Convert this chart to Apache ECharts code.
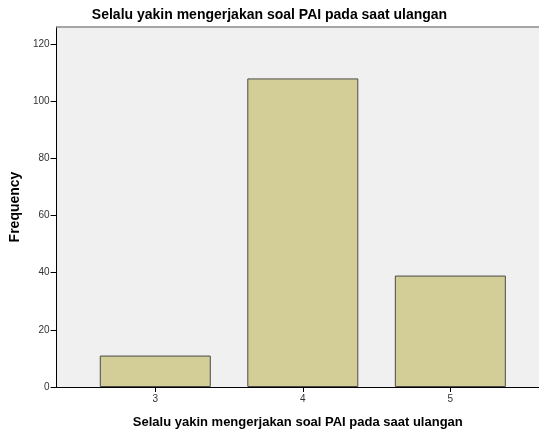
<!DOCTYPE html>
<html>
<head>
<meta charset="utf-8">
<script src="https://cdn.jsdelivr.net/npm/echarts@6/dist/echarts.min.js"></script>
<style>
  html, body { margin: 0; padding: 0; background: #fff; }
  #chart { width: 539px; height: 434px; }
</style>
</head>
<body>
<div id="chart"></div>
<script>
// data
const categories = [3, 4, 5]
const frequencies = [11, 108, 39]
const yTicks = [0, 20, 40, 60, 80, 100, 120]
const titleText = 'Selalu yakin mengerjakan soal PAI pada saat ulangan'

let chartInstance = echarts.init(document.getElementById('chart'), null, { renderer: 'canvas' })

const option = {
  animation: false,
  textStyle: { fontFamily: 'Liberation Sans, Arial, sans-serif' },
  title: {
    text: titleText,
    left: 'center',
    top: 3,
    textStyle: { fontSize: 14, fontWeight: 'bold', color: '#000' }
  },
  grid: {
    left: 54.5,
    right: 0,
    top: 27,
    bottom: 43,
    show: true,
    backgroundColor: '#f0f0f0',
    borderWidth: 0
  },
  xAxis: [
    {
      type: 'value',
      min: 2.331,
      max: 5.601,
      name: titleText,
      nameLocation: 'middle',
      nameGap: 29,
      nameTextStyle: { fontSize: 13, fontWeight: 'bold', color: '#000' },
      axisLine: { show: true, onZero: false, lineStyle: { color: '#000', width: 1 } },
      axisTick: { show: true, length: 5, customValues: categories, lineStyle: { color: '#000' } },
      axisLabel: { customValues: categories, fontSize: 10, color: '#333', margin: 7 },
      splitLine: { show: false }
    },
    {
      // grey frame line along the top of the plot
      type: 'value',
      position: 'top',
      min: 2.331,
      max: 5.601,
      axisLine: { show: true, onZero: false, lineStyle: { color: '#8a8a8a', width: 1.5 } },
      axisTick: { show: false },
      axisLabel: { show: false },
      splitLine: { show: false }
    }
  ],
  yAxis: {
    type: 'value',
    min: 0,
    max: 126,
    name: 'Frequency',
    nameLocation: 'middle',
    nameGap: 26,
    nameTextStyle: { fontSize: 14, fontWeight: 'bold', color: '#000' },
    axisLine: { show: true, lineStyle: { color: '#000', width: 1 } },
    axisTick: { show: true, length: 6, customValues: yTicks, lineStyle: { color: '#000' } },
    axisLabel: { customValues: yTicks, fontSize: 10, color: '#333', margin: 7 },
    splitLine: { show: false }
  },
  series: [
    {
      type: 'bar',
      xAxisIndex: 0,
      barWidth: 111,
      data: categories.map((c, i) => [c, frequencies[i]]),
      itemStyle: {
        color: '#d3ce97',
        borderColor: '#4a4a4a',
        borderWidth: 1
      },
      emphasis: { disabled: true }
    }
  ]
}

chartInstance.setOption(option)
</script>
</body>
</html>
